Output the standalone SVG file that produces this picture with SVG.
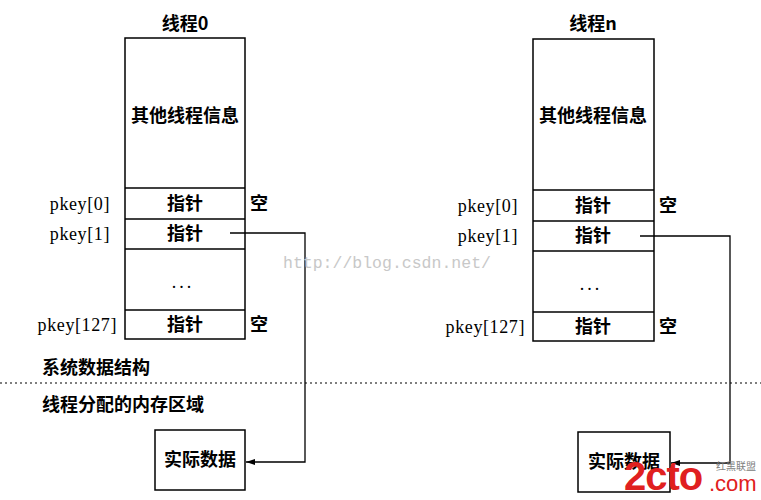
<svg xmlns="http://www.w3.org/2000/svg" width="761" height="500" viewBox="0 0 761 500">
<defs>
<style>
.box{fill:#fff;stroke:#000;stroke-width:1.5}
.ln{fill:none;stroke:#000;stroke-width:1.3}
.cn{font-family:"Noto Sans CJK SC","Noto Sans CJK JP",sans-serif;font-size:18px;font-weight:bold;fill:#000}
.dt{font-family:"Liberation Serif",serif;font-size:18px;fill:#000;letter-spacing:3px}
.pk{font-family:"Liberation Serif",serif;font-size:18px;fill:#000;letter-spacing:0.6px}
.wm{font-family:"Liberation Mono",monospace;font-size:16.5px;fill:#c8c8c8}
</style>
<marker id="ah" markerWidth="10" markerHeight="8" refX="9" refY="4" orient="auto" markerUnits="userSpaceOnUse">
<path d="M0,1 L9,4 L0,7 Z" fill="#000"/>
</marker>
</defs>
<rect width="761" height="500" fill="#fff"/>

<g id="thread0">
<text class="cn" x="185" y="30" text-anchor="middle">线程0</text>
<rect class="box" x="125" y="38" width="120" height="301"/>
<line class="ln" x1="125" y1="188" x2="245" y2="188"/>
<line class="ln" x1="125" y1="219" x2="245" y2="219"/>
<line class="ln" x1="125" y1="249" x2="245" y2="249"/>
<line class="ln" x1="125" y1="310" x2="245" y2="310"/>
<text class="cn" x="185" y="122" text-anchor="middle">其他线程信息</text>
<text class="cn" x="185" y="210" text-anchor="middle">指针</text>
<text class="cn" x="185" y="240" text-anchor="middle">指针</text>
<text class="dt" x="183" y="288" text-anchor="middle">...</text>
<text class="cn" x="185" y="331" text-anchor="middle">指针</text>
<text class="pk" x="110" y="210" text-anchor="end">pkey[0]</text>
<text class="pk" x="110" y="240" text-anchor="end">pkey[1]</text>
<text class="pk" x="117" y="331" text-anchor="end">pkey[127]</text>
<text class="cn" x="250" y="210">空</text>
<text class="cn" x="250" y="331">空</text>
</g>

<g id="threadn">
<text class="cn" x="593" y="30" text-anchor="middle">线程n</text>
<rect class="box" x="533" y="39" width="121" height="302"/>
<line class="ln" x1="533" y1="190" x2="654" y2="190"/>
<line class="ln" x1="533" y1="221" x2="654" y2="221"/>
<line class="ln" x1="533" y1="251" x2="654" y2="251"/>
<line class="ln" x1="533" y1="312" x2="654" y2="312"/>
<text class="cn" x="593" y="122" text-anchor="middle">其他线程信息</text>
<text class="cn" x="593" y="212" text-anchor="middle">指针</text>
<text class="cn" x="593" y="242" text-anchor="middle">指针</text>
<text class="dt" x="591" y="290" text-anchor="middle">...</text>
<text class="cn" x="593" y="333" text-anchor="middle">指针</text>
<text class="pk" x="518" y="212" text-anchor="end">pkey[0]</text>
<text class="pk" x="518" y="242" text-anchor="end">pkey[1]</text>
<text class="pk" x="525" y="333" text-anchor="end">pkey[127]</text>
<text class="cn" x="659" y="212">空</text>
<text class="cn" x="659" y="333">空</text>
</g>

<g id="data0">
<rect class="box" x="155" y="430" width="90" height="60"/>
<text class="cn" x="200" y="466" text-anchor="middle">实际数据</text>
</g>

<g id="datan">
<rect class="box" x="578" y="432" width="92" height="60"/>
<text class="cn" x="624" y="468" text-anchor="middle">实际数据</text>
</g>

<g id="labels">
<text class="cn" x="42" y="374">系统数据结构</text>
<text class="cn" x="42" y="411">线程分配的内存区域</text>
<line x1="0" y1="383" x2="761" y2="383" stroke="#000" stroke-width="1.2" stroke-dasharray="2,3"/>
</g>

<g id="connectors">
<polyline class="ln" points="230,233 305,233 305,462 246,462" marker-end="url(#ah)"/>
<polyline class="ln" points="640,236 730,236 730,463 671,463" marker-end="url(#ah)"/>
</g>

<g id="watermarks">
<text class="wm" x="283" y="268">http://blog.csdn.net/</text>
<text x="624" y="490" font-family="Liberation Sans,sans-serif" font-size="40" font-weight="bold" fill="#e02020" letter-spacing="-1">2cto</text>
<text x="709" y="491" font-family="Liberation Sans,sans-serif" font-size="22" fill="#e02020">.com</text>
<text x="716" y="470" font-family="Noto Sans CJK SC,sans-serif" font-size="10" fill="#808080">红黑联盟</text>
</g>
</svg>
